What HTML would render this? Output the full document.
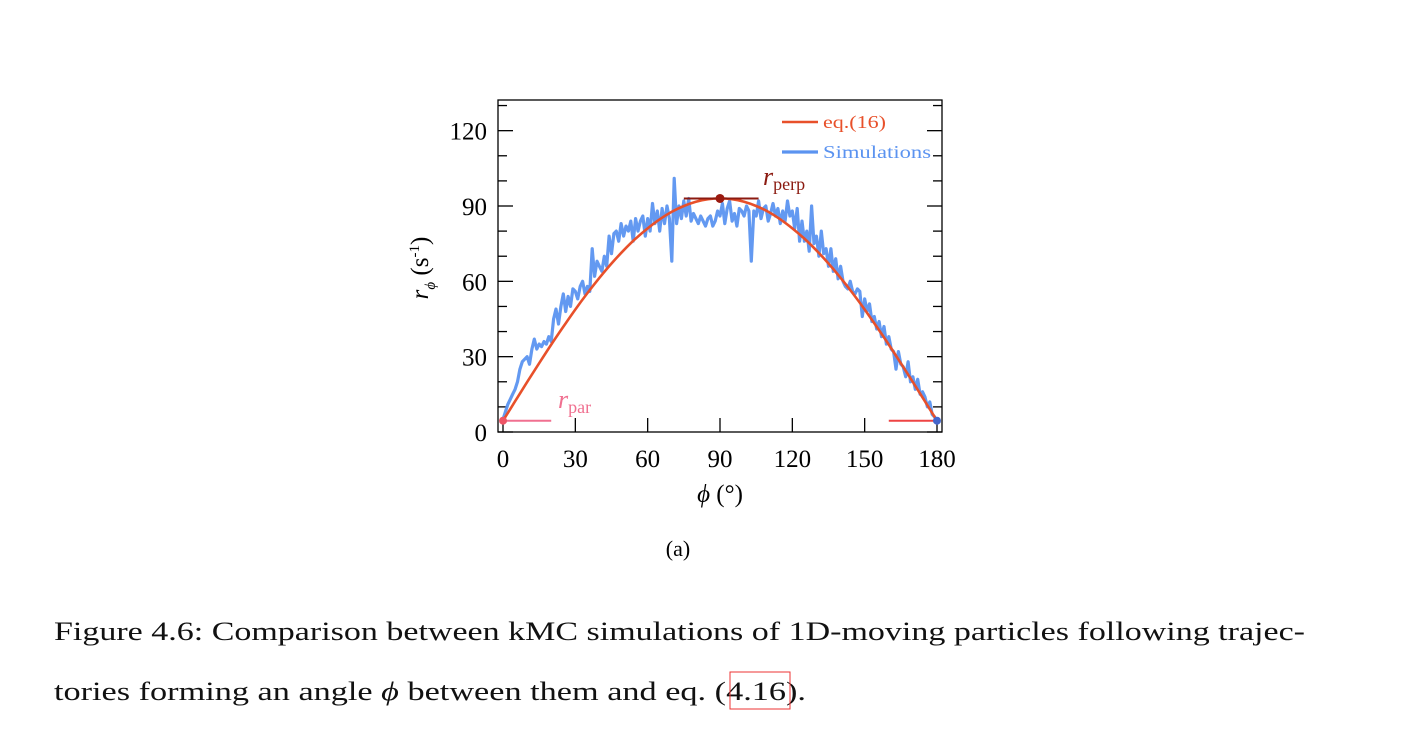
<!DOCTYPE html>
<html><head><meta charset="utf-8"><style>
body{margin:0;background:#fff;width:1418px;height:742px;overflow:hidden;font-family:"Liberation Serif",serif}
svg{position:absolute;left:0;top:0}
</style></head><body>
<svg width="1418" height="742">
<g id="axes"></g><g id="marks"></g>
<text x="54" y="640" font-size="26" fill="#111" textLength="1251" lengthAdjust="spacingAndGlyphs">Figure 4.6: Comparison between kMC simulations of 1D-moving particles following trajec-</text>
<text x="54" y="700" font-size="26" fill="#111" textLength="752" lengthAdjust="spacingAndGlyphs">tories forming an angle <tspan font-style="italic">ϕ</tspan> between them and eq. (4.16).</text>
<rect x="730" y="672" width="60" height="37" fill="none" stroke="#e33" stroke-width="1"/>
</svg>
<script>
const eqAngles=[0,5,10,15,20,25,30,35,40,45,50,55,60,65,70,75,80,85,90,95,100,105,110,115,120,125,130,135,140,145,150,155,160,165,170,175,180];
const eqValues=[4.5,12.2,19.9,27.4,34.8,41.9,48.8,55.3,61.4,67.1,72.3,77,81.1,84.7,87.7,90,91.7,92.7,93,92.7,91.7,90,87.7,84.7,81.1,77,72.3,67.1,61.4,55.3,48.8,41.9,34.8,27.4,19.9,12.2,4.5];
const simValues=[5,8,11,13,15,17,20,25,28,29,30,27,33,37,33,35,34,36,35,38,36,45,49,43,50,55,48,54,50,57,56,53,58,60,55,58,56,73,62,68,66,64,70,66,78,71,79,80,76,83,78,82,80,84,76,85,80,84,86,78,85,80,91,83,88,80,89,83,90,85,68,101,83,90,85,92,86,93,84,87,85,83,86,84,82,85,86,82,84,88,86,91,83,89,92,84,87,82,89,88,86,90,88,68,88,86,92,85,89,90,84,87,91,86,89,83,88,84,92,86,88,81,89,76,84,76,80,72,90,75,78,70,80,71,73,66,73,64,69,61,66,60,58,57,60,56,55,57,56,46,53,48,51,44,46,41,44,38,42,35,38,33,32,25,32,27,26,22,28,20,22,17,21,15,16,14,10,12,7,6,4];
const xTicks=[0,30,60,90,120,150,180];
const yTicks=[0,30,60,90,120];
const rPar=4.5, rPerp=93;
const NS="http://www.w3.org/2000/svg";
const X=v=>503+v*(937-503)/180;
const Y=v=>432-v*(432-206)/90;
const axes=document.getElementById('axes'),marks=document.getElementById('marks');
function mk(p,tag,at){const e=document.createElementNS(NS,tag);for(const k in at)e.setAttribute(k,at[k]);p.appendChild(e);return e;}
let fr=mk(axes,'rect',{x:498,y:100,width:444,height:332,fill:'none',stroke:'#000','stroke-width':1.3});


for(const t of xTicks){
 let l=mk(axes,'line',{x1:X(t),x2:X(t),y1:432,y2:418,stroke:'#000','stroke-width':1.3});
 
 
 let tx=mk(axes,'text',{x:X(t),y:467,'text-anchor':'middle','font-size':25,'font-family':'Liberation Serif'});
 tx.textContent=t;
 
 
}
for(let v=0;v<=130;v+=10){
 if(Y(v)<100)break;
 const len=v%30===0?15:9;
 let l=mk(axes,'line',{x1:498,x2:498+len,y1:Y(v),y2:Y(v),stroke:'#000','stroke-width':1.3});
 
 
 mk(axes,'line',{x1:942,x2:942-len,y1:Y(v),y2:Y(v),stroke:'#000','stroke-width':1.3});
}
for(const t of yTicks){
 let tx=mk(axes,'text',{x:487,y:Y(t)+9,'text-anchor':'end','font-size':25,'font-family':'Liberation Serif'});
 tx.textContent=t;
 
 
}
let xt=mk(axes,'text',{x:720,y:502,'text-anchor':'middle','font-size':25,'font-family':'Liberation Serif'});
xt.innerHTML='<tspan font-style="italic">ϕ</tspan> (°)';


let yt=mk(axes,'text',{x:0,y:0,'text-anchor':'middle','font-size':25,'font-family':'Liberation Serif',transform:'translate(428,268) rotate(-90)'});
yt.innerHTML='<tspan font-style="italic">r</tspan><tspan font-size="15" dy="7" font-style="italic">ϕ</tspan><tspan dy="-7"> (s</tspan><tspan font-size="15" dy="-9">-1</tspan><tspan dy="9">)</tspan>';


let sub=mk(axes,'text',{x:678,y:556,'text-anchor':'middle','font-size':22,'font-family':'Liberation Serif'});
sub.textContent='(a)';


let lp=mk(marks,'line',{x1:X(0),x2:X(20),y1:Y(rPar),y2:Y(rPar),stroke:'#f07090','stroke-width':2});


let lp2=mk(marks,'line',{x1:X(160),x2:X(180),y1:Y(rPar),y2:Y(rPar),stroke:'#ee4444','stroke-width':2});


let sp=simValues.map((v,i)=>(i?'L':'M')+X(i*180/(simValues.length-1)).toFixed(1)+','+Y(v).toFixed(1)).join('');
let sim=mk(marks,'path',{d:sp,fill:'none',stroke:'#5b93f0','stroke-width':3.2,'stroke-linejoin':'round','stroke-opacity':0.95});


let pts=eqAngles.map((a,i)=>[X(a),Y(eqValues[i])]);
let d='M'+pts[0].join(',');
for(let i=0;i<pts.length-1;i++){const p0=pts[Math.max(0,i-1)],p1=pts[i],p2=pts[i+1],p3=pts[Math.min(pts.length-1,i+2)];
 d+='C'+(p1[0]+(p2[0]-p0[0])/6)+','+(p1[1]+(p2[1]-p0[1])/6)+' '+(p2[0]-(p3[0]-p1[0])/6)+','+(p2[1]-(p3[1]-p1[1])/6)+' '+p2[0]+','+p2[1];}
let eq=mk(marks,'path',{d:d,fill:'none',stroke:'#e8502a','stroke-width':2.6});


let pl=mk(marks,'line',{x1:X(75),x2:X(106),y1:Y(rPerp),y2:Y(rPerp),stroke:'#8b1a10','stroke-width':2});


let pd=mk(marks,'circle',{cx:X(90),cy:Y(rPerp),r:4.5,fill:'#9a1a10'});


let d0=mk(marks,'circle',{cx:X(0),cy:Y(rPar),r:4,fill:'#ee5566'});


let d1=mk(marks,'circle',{cx:X(180),cy:Y(rPar),r:4,fill:'#4466cc'});


let tp=mk(marks,'text',{x:763,y:185,'font-size':26,fill:'#8b1a10','font-family':'Liberation Serif'});
tp.innerHTML='<tspan font-style="italic">r</tspan><tspan font-size="18" dy="5">perp</tspan>';


let tr=mk(marks,'text',{x:558,y:408,'font-size':26,fill:'#f07090','font-family':'Liberation Serif'});
tr.innerHTML='<tspan font-style="italic">r</tspan><tspan font-size="18" dy="5">par</tspan>';


let l1=mk(marks,'line',{x1:782,x2:818,y1:122,y2:122,stroke:'#e8502a','stroke-width':2.6});


let t1=mk(marks,'text',{x:823,y:128,'font-size':18,fill:'#e8502a','font-family':'Liberation Serif',textLength:63,lengthAdjust:'spacingAndGlyphs'});
t1.textContent='eq.(16)';


let l2=mk(marks,'line',{x1:782,x2:818,y1:152,y2:152,stroke:'#5b93f0','stroke-width':3.2});


let t2=mk(marks,'text',{x:823,y:158,'font-size':18,fill:'#5b93f0','font-family':'Liberation Serif',textLength:108,lengthAdjust:'spacingAndGlyphs'});
t2.textContent='Simulations';


</script>
</body></html>
